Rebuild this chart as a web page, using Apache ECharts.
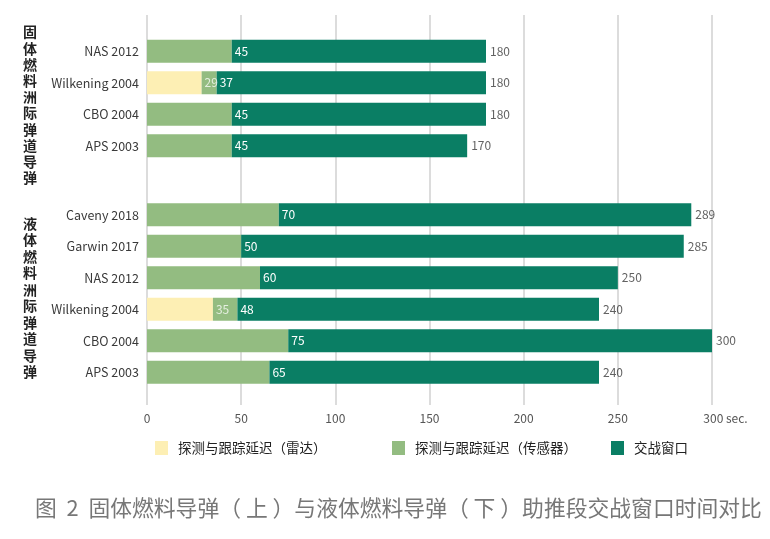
<!DOCTYPE html>
<html>
<head>
<meta charset="utf-8">
<script src="https://cdn.jsdelivr.net/npm/echarts@6/dist/echarts.min.js"></script>
<style>html,body{margin:0;padding:0;background:#fff}#c{width:770px;height:539px}</style>
</head>
<body>
<div id="c"></div>
<script>
// ---- data ----
var solidCats = ['NAS 2012', 'Wilkening 2004', 'CBO 2004', 'APS 2003'];
var solidRadarEnd = [0, 29, 0, 0];
var solidSensorEnd = [45, 37, 45, 45];
var solidTotal = [180, 180, 180, 170];

var liquidCats = ['Caveny 2018', 'Garwin 2017', 'NAS 2012', 'Wilkening 2004', 'CBO 2004', 'APS 2003'];
var liquidRadarEnd = [0, 0, 0, 35, 0, 0];
var liquidSensorEnd = [70, 50, 60, 48, 75, 65];
var liquidTotal = [289, 285, 250, 240, 300, 240];

var xTicks = [0, 50, 100, 150, 200, 250, 300];
var seriesNames = ['探测与跟踪延迟（雷达）', '探测与跟踪延迟（传感器）', '交战窗口'];
var groupLabels = ['固体燃料洲际弹道导弹', '液体燃料洲际弹道导弹'];
var titleText = '图  2  固体燃料导弹（ 上 ）与液体燃料导弹（ 下 ）助推段交战窗口时间对比';

// ---- styles ----
var FONT = '"Noto Sans CJK SC", "Noto Sans", sans-serif';
var C_RADAR = '#fdefb4';
var C_SENSOR = '#93bc81';
var C_ENGAGE = '#0a7e64';

var chart = echarts.init(document.getElementById('c'));

function makeSeries(gi, radarEnd, sensorEnd, total) {
  var radar = radarEnd.slice();
  var sensor = sensorEnd.map(function (v, i) { return v - radarEnd[i]; });
  var engage = total.map(function (v, i) { return v - sensorEnd[i]; });
  var stack = 's' + gi;
  var common = { type: 'bar', stack: stack, xAxisIndex: gi, yAxisIndex: gi, barWidth: 23, animation: false };
  return [
    Object.assign({}, common, {
      name: seriesNames[0], data: radar, itemStyle: { color: C_RADAR }
    }),
    Object.assign({}, common, {
      name: seriesNames[1], data: sensor, itemStyle: { color: C_SENSOR },
      label: {
        show: true, position: 'insideLeft', distance: 3,
        color: 'rgba(255,255,255,0.75)', fontSize: 12, fontFamily: FONT,
        formatter: function (p) { return radarEnd[p.dataIndex] > 0 ? String(radarEnd[p.dataIndex]) : ''; }
      }
    }),
    Object.assign({}, common, {
      name: seriesNames[2], data: engage, itemStyle: { color: C_ENGAGE },
      label: {
        show: true, position: 'insideLeft', distance: 3,
        color: '#ffffff', fontSize: 12, fontFamily: FONT,
        formatter: function (p) { return String(sensorEnd[p.dataIndex]); }
      }
    }),
    {
      type: 'scatter', name: 'total' + gi, xAxisIndex: gi, yAxisIndex: gi,
      symbolSize: 0, animation: false, silent: true,
      data: total.map(function (v, i) { return [v, i]; }),
      label: {
        show: true, position: 'right', distance: 4,
        color: '#3a3a3a', fontSize: 12, fontFamily: FONT,
        formatter: function (p) { return String(p.value[0]); }
      }
    }
  ];
}

var hiddenX = function (gi) {
  return { gridIndex: gi, type: 'value', min: 0, max: 300, interval: 50, show: false };
};
var catY = function (gi, cats) {
  return {
    gridIndex: gi, type: 'category', data: cats, inverse: true,
    axisLine: { show: false }, axisTick: { show: false },
    axisLabel: { color: '#3a3a3a', fontSize: 12.5, fontFamily: FONT, margin: 8 }
  };
};

var legendCommon = {
  icon: 'rect', itemWidth: 13, itemHeight: 14, top: 441, padding: 0,
  textStyle: { color: '#222', fontSize: 13.5, fontFamily: FONT, padding: [0, 0, 0, 5] },
  selectedMode: false
};

var option = {
  backgroundColor: '#ffffff',
  animation: false,
  grid: [
    { left: 147, right: 58, top: 35.5, height: 126 },
    { left: 147, right: 58, top: 199, height: 189 },
    { left: 147, right: 58, top: 15, bottom: 134 }
  ],
  xAxis: [
    hiddenX(0),
    hiddenX(1),
    {
      gridIndex: 2, type: 'value', min: 0, max: 300, interval: 50,
      axisLine: { show: false }, axisTick: { show: false },
      splitLine: { show: true, lineStyle: { color: '#d0d0d0', width: 1.5 } },
      axisLabel: {
        color: '#555', fontSize: 12, fontFamily: FONT, margin: 7,
        formatter: function (v) {
          return v === xTicks[xTicks.length - 1] ? '{pad|}' + v + '{u| sec.}' : String(v);
        },
        rich: {
          pad: { width: 27 },
          u: { color: '#555', fontSize: 12, fontFamily: FONT }
        }
      }
    }
  ],
  yAxis: [
    catY(0, solidCats),
    catY(1, liquidCats),
    { gridIndex: 2, type: 'category', data: [''], show: false }
  ],
  legend: [
    Object.assign({}, legendCommon, { left: 155, data: [seriesNames[0]] }),
    Object.assign({}, legendCommon, { left: 392, data: [seriesNames[1]] }),
    Object.assign({}, legendCommon, { left: 611, data: [seriesNames[2]] })
  ],
  graphic: [
    {
      type: 'text', left: 23, top: 24,
      style: {
        text: groupLabels[0].split('').join('\n'), fontSize: 14, fontWeight: 'bold',
        fill: '#222', lineHeight: 16.2, fontFamily: FONT
      }
    },
    {
      type: 'text', left: 23, top: 215,
      style: {
        text: groupLabels[1].split('').join('\n'), fontSize: 14, fontWeight: 'bold',
        fill: '#222', lineHeight: 16.5, fontFamily: FONT
      }
    },
    {
      type: 'text', left: 35, top: 497,
      style: { text: titleText, fontSize: 21.8, fill: '#777', fontFamily: FONT }
    }
  ],
  series: [].concat(
    makeSeries(0, solidRadarEnd, solidSensorEnd, solidTotal),
    makeSeries(1, liquidRadarEnd, liquidSensorEnd, liquidTotal)
  )
};

chart.setOption(option);
</script>
</body>
</html>
